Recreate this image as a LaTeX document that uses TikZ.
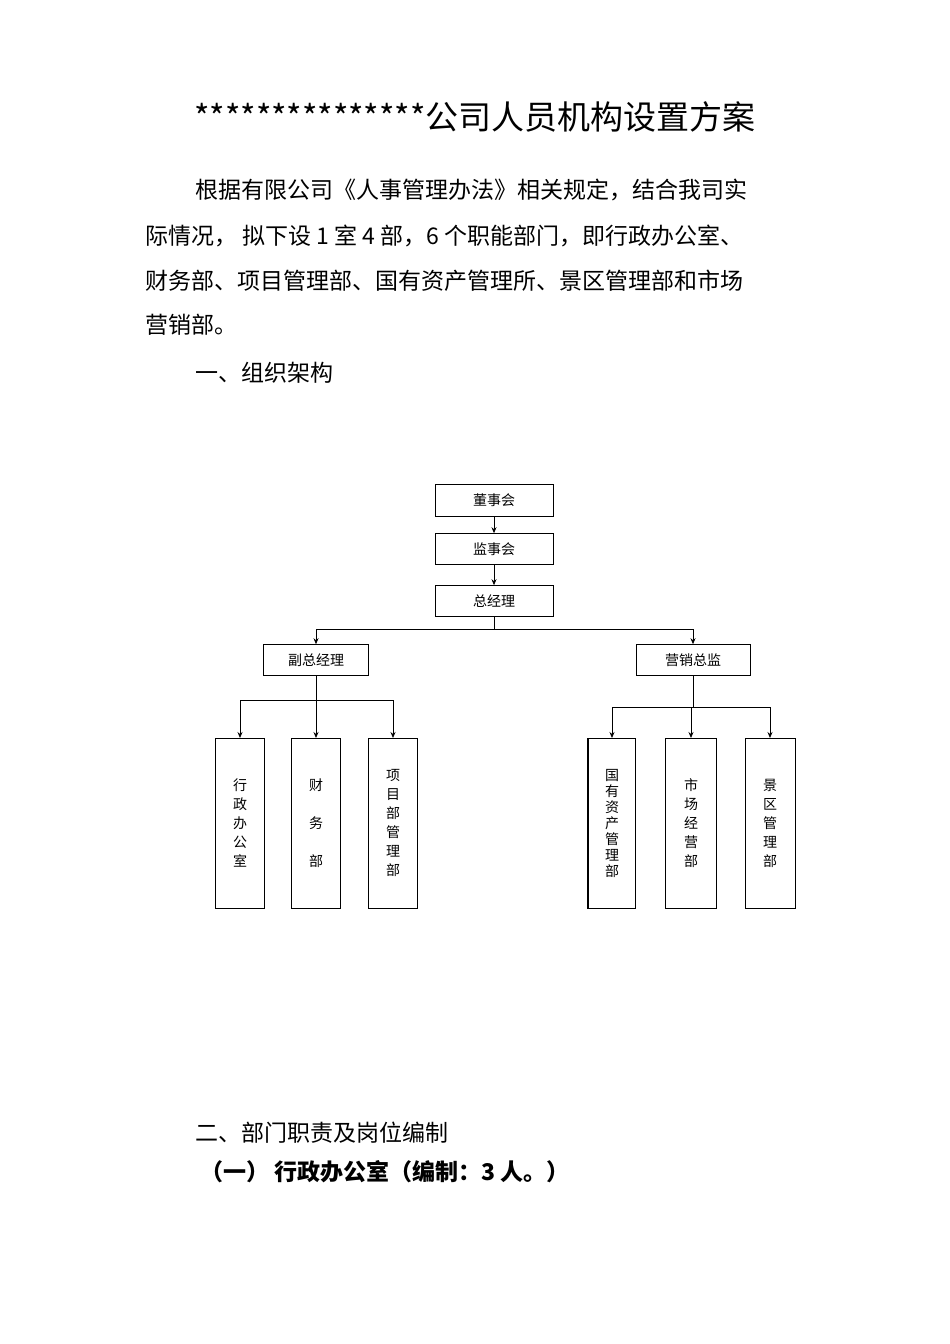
\documentclass[tikz,border=0pt]{standalone}
\usepackage{fontspec}
\setmainfont{Noto Sans CJK SC}
\newfontfamily\cjk{Noto Sans CJK SC}
\usetikzlibrary{arrows.meta}
\begin{document}
\begin{tikzpicture}[x=1pt,y=1pt,
  box/.style={draw,line width=0.6pt,inner sep=0pt,font=\fontsize{14}{16}\selectfont},
  vbox/.style={box,minimum width=49pt,minimum height=170pt,anchor=north,align=center,font=\fontsize{14}{19}\selectfont},
  arr/.style={-{Stealth[length=6pt,width=5pt]},line width=0.8pt},
  ln/.style={line width=0.8pt},
  para/.style={anchor=west,font=\fontsize{23}{26}\selectfont,inner sep=0pt}]
\useasboundingbox[fill=white] (0,0) rectangle (950,-1344);
\node[font=\fontsize{33}{36}\selectfont] (title) at (475,-117) {***************公司人员机构设置方案};
\node[para] (p1) at (195,-190) {根据有限公司《人事管理办法》相关规定，结合我司实};
\node[para] (p2) at (145,-236) {际情况，\ 拟下设 1 室 4 部，6 个职能部门，即行政办公室、};
\node[para] (p3) at (145,-281) {财务部、项目管理部、国有资产管理所、景区管理部和市场};
\node[para] (p4) at (145,-325) {营销部。};
\node[para] (s1) at (195,-373) {一、组织架构};
\node[para] (s2) at (195,-1133) {二、部门职责及岗位编制};
\node[para,font=\fontsize{23}{26}\selectfont\bfseries] (s3) at (200,-1172) {（一）\ 行政办公室（编制：3 人。）};
% top chain
\node[box,minimum width=118pt,minimum height=32pt] (a) at (494,-500) {董事会};
\node[box,minimum width=118pt,minimum height=31pt] (b) at (494,-549) {监事会};
\node[box,minimum width=118pt,minimum height=31pt] (c) at (494,-601) {总经理};
\node[box,minimum width=105pt,minimum height=31pt] (d) at (316,-660) {副总经理};
\node[box,minimum width=114pt,minimum height=31pt] (e) at (693,-660) {营销总监};
\draw[arr] (a) -- (b);
\draw[arr] (b) -- (c);
\coordinate (cj) at (494,-629);
\draw[ln] (c) -- (cj);
\draw[arr] (cj) -| (d.north);
\draw[arr] (cj) -| (e.north);
% left group
\node[vbox] (l1) at (240,-738) {行\\政\\办\\公\\室};
\node[vbox] (l2) at (316,-738) {财\\\\务\\\\部};
\node[vbox] (l3) at (393,-738) {项\\目\\部\\管\\理\\部};
\coordinate (dj) at (316,-700);
\draw[ln] (d) -- (dj);
\draw[arr] (dj) -| (l1.north);
\draw[arr] (dj) -- (l2.north);
\draw[arr] (dj) -| (l3.north);
% right group
\node[vbox,minimum width=47pt,font=\fontsize{14}{16}\selectfont] (r1) at (612,-738) {国\\有\\资\\产\\管\\理\\部};
\draw[line width=1.6pt] (r1.north west) -- (r1.south west);
\node[vbox,minimum width=51pt] (r2) at (691,-738) {市\\场\\经\\营\\部};
\node[vbox,minimum width=50pt] (r3) at (770,-738) {景\\区\\管\\理\\部};
\coordinate (ej) at (693,-707);
\draw[ln] (e) -- (ej);
\draw[arr] (ej) -| (r1.north);
\draw[arr] (ej) -| (r2.north);
\draw[arr] (ej) -| (r3.north);
\end{tikzpicture}
\end{document}
